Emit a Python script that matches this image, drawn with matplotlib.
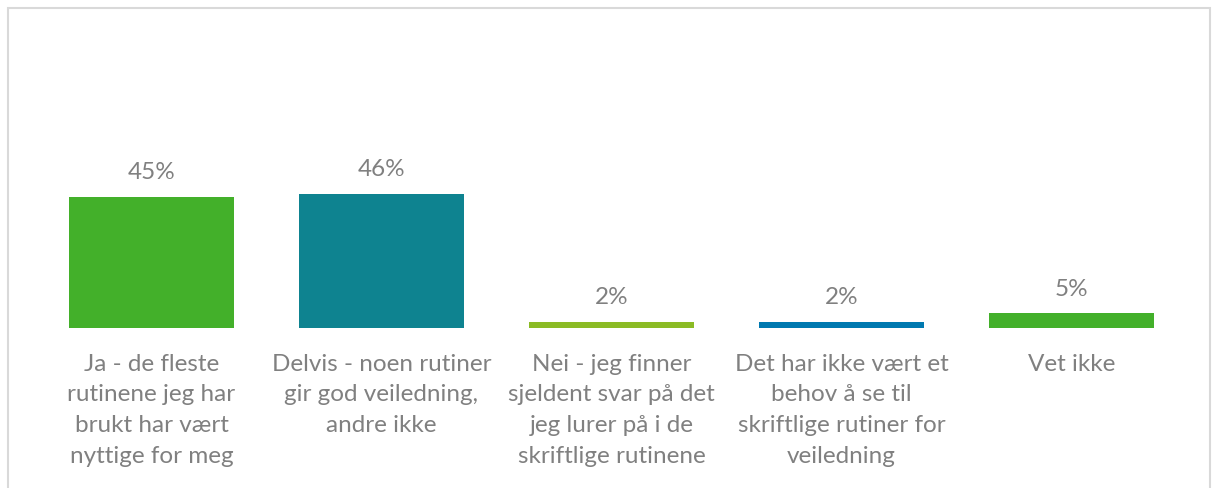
import matplotlib
matplotlib.use("Agg")
import matplotlib.pyplot as plt
from matplotlib.patches import Rectangle

categories = [
    "Ja - de fleste\nrutinene jeg har\nbrukt har vært\nnyttige for meg",
    "Delvis - noen rutiner\ngir god veiledning,\nandre ikke",
    "Nei - jeg finner\nsjeldent svar på det\njeg lurer på i de\nskriftlige rutinene",
    "Det har ikke vært et\nbehov å se til\nskriftlige rutiner for\nveiledning",
    "Vet ikke",
]
values = [45, 46, 2, 2, 5]
labels = ["45%", "46%", "2%", "2%", "5%"]
colors = ["#43B02A", "#0E8390", "#8BBB25", "#0079B0", "#43B02A"]

W, H = 1212, 488
fig = plt.figure(figsize=(W / 100, H / 100), dpi=100)
fig.patch.set_facecolor("white")

left, right = 36.5, 1186.5
bottom_px, top_px = 328, 40
ax = fig.add_axes([left / W, 1 - bottom_px / H, (right - left) / W, (bottom_px - top_px) / H])
px_per_pct = 131 / 45.0
ax.set_ylim(0, (bottom_px - top_px) / px_per_pct)
ax.set_xlim(-0.5, len(values) - 0.5)

x = list(range(len(values)))
ax.bar(x, values, width=165 / 230, color=colors, zorder=2)

font = "Lato"
txt_color = "#808080"
for xi, v, lab in zip(x, values, labels):
    ax.annotate(lab, (xi, v), xytext=(0, 10), textcoords="offset points",
                ha="center", va="bottom", fontsize=17.5, color=txt_color,
                family=font)

ax.set_xticks(x)
ax.set_xticklabels(categories, fontsize=17.5, color=txt_color, family=font,
                   linespacing=1.57, va="top")
ax.tick_params(axis="x", length=0, pad=18.5)
ax.set_yticks([])
for s in ax.spines.values():
    s.set_visible(False)

fig.patches.append(Rectangle((7.5 / W, -0.1), (1210 - 7.5) / W, 1.1 - 8.5 / H,
                             transform=fig.transFigure, fill=False,
                             edgecolor="#D9D9D9", linewidth=1.5))

fig.savefig("out.png", dpi=100, facecolor="white")
